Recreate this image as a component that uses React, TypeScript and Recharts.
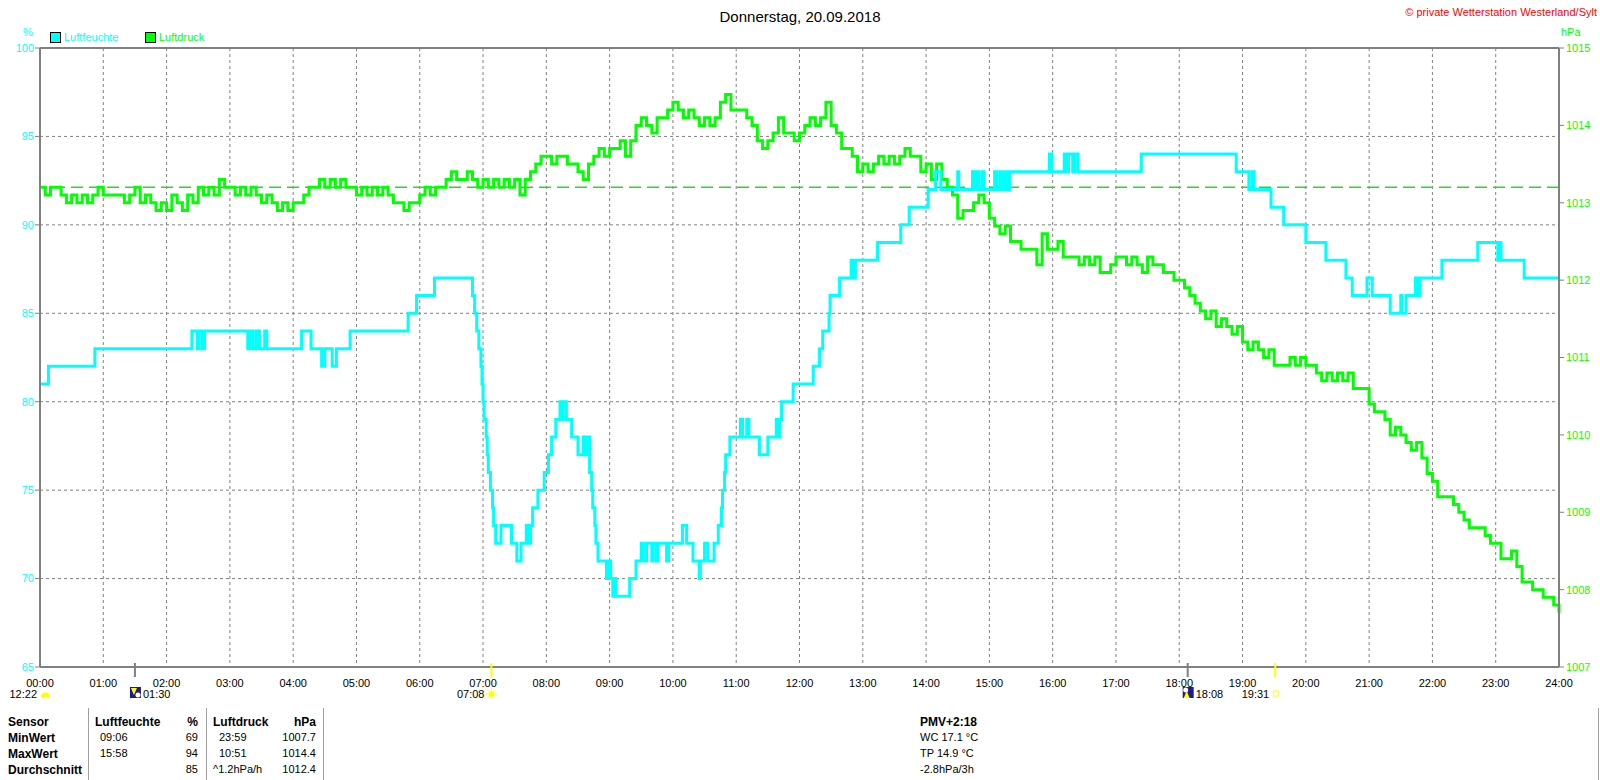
import React from "react";
import { LineChart, Line, XAxis, YAxis, CartesianGrid, ReferenceLine } from "recharts";

const FONT = '"Liberation Sans", Arial, sans-serif';
const CYAN = "#00ffff";
const GREEN = "#00ff00";
const GRID = "#808080";

const chartTitle = "Donnerstag, 20.09.2018";
const copyright = "\u00a9 private Wetterstation Westerland/Sylt";

const hourTicks = Array.from({ length: 25 }, (_, i) => i * 60);
const humidityTicks = [65, 70, 75, 80, 85, 90, 95, 100];
const pressureTicks = [1007, 1008, 1009, 1010, 1011, 1012, 1013, 1014, 1015];
const referencePressure = 1013.2;

// sun / moon events shown under the time axis
const dayEvents = [
  { t: 0, label: "12:22", kind: "day" },
  { t: 90, label: "01:30", kind: "moonrise" },
  { t: 428, label: "07:08", kind: "sunrise" },
  { t: 1088, label: "18:08", kind: "moonset" },
  { t: 1171, label: "19:31", kind: "sunset" },
];

// Luftfeuchte (%), value changes: [time, value]
const humidityChanges: [string, number][] = [
  ["00:00", 81], ["00:08", 82], ["00:52", 83], ["02:24", 84], ["02:29", 83], ["02:31", 84],
  ["02:34", 83], ["02:36", 84], ["03:17", 83], ["03:19", 84], ["03:22", 83], ["03:25", 84],
  ["03:28", 83], ["03:33", 84], ["03:35", 83], ["04:08", 84], ["04:17", 83], ["04:27", 82],
  ["04:30", 83], ["04:37", 82], ["04:41", 83], ["04:54", 84], ["05:49", 85], ["05:57", 86],
  ["06:14", 87], ["06:50", 86], ["06:52", 85], ["06:54", 84], ["06:56", 83], ["06:58", 82],
  ["06:59", 81], ["07:00", 80], ["07:01", 79], ["07:03", 78], ["07:04", 77], ["07:05", 76],
  ["07:07", 75], ["07:09", 74], ["07:10", 73], ["07:12", 72], ["07:17", 73], ["07:27", 72],
  ["07:32", 71], ["07:36", 72], ["07:41", 73], ["07:43", 72], ["07:45", 73], ["07:47", 74],
  ["07:52", 75], ["07:58", 76], ["08:02", 77], ["08:05", 78], ["08:09", 79], ["08:13", 80],
  ["08:15", 79], ["08:16", 80], ["08:19", 79], ["08:24", 78], ["08:30", 77], ["08:35", 78],
  ["08:36", 77], ["08:38", 78], ["08:41", 76], ["08:43", 75], ["08:44", 74], ["08:46", 73],
  ["08:47", 72], ["08:49", 71], ["08:57", 70], ["08:59", 71], ["09:01", 70], ["09:03", 69],
  ["09:05", 70], ["09:06", 69], ["09:19", 70], ["09:25", 71], ["09:30", 72], ["09:32", 71],
  ["09:35", 72], ["09:40", 71], ["09:41", 72], ["09:44", 71], ["09:46", 72], ["09:54", 71],
  ["09:56", 72], ["10:09", 73], ["10:13", 72], ["10:19", 71], ["10:25", 70], ["10:26", 71],
  ["10:30", 72], ["10:33", 71], ["10:39", 72], ["10:43", 73], ["10:46", 74], ["10:47", 75],
  ["10:49", 76], ["10:50", 77], ["10:54", 78], ["11:04", 79], ["11:06", 78], ["11:10", 79],
  ["11:12", 78], ["11:22", 77], ["11:30", 78], ["11:38", 79], ["11:40", 78], ["11:41", 79],
  ["11:43", 80], ["11:54", 81], ["12:13", 82], ["12:19", 83], ["12:22", 84], ["12:28", 85],
  ["12:29", 86], ["12:38", 87], ["12:49", 88], ["12:51", 87], ["12:53", 88], ["13:14", 89],
  ["13:36", 90], ["13:44", 91], ["14:02", 92], ["14:09", 93], ["14:14", 92], ["14:30", 93],
  ["14:31", 92], ["14:44", 93], ["14:46", 92], ["14:48", 93], ["14:50", 92], ["14:53", 93],
  ["14:55", 92], ["15:05", 93], ["15:07", 92], ["15:10", 93], ["15:12", 92], ["15:15", 93],
  ["15:17", 92], ["15:19", 93], ["15:57", 94], ["15:59", 93], ["16:11", 94], ["16:13", 93],
  ["16:15", 94], ["16:19", 93], ["16:21", 94], ["16:24", 93], ["17:24", 94], ["18:54", 93],
  ["19:06", 92], ["19:09", 93], ["19:11", 92], ["19:27", 91], ["19:39", 90], ["20:00", 89],
  ["20:19", 88], ["20:38", 87], ["20:44", 86], ["20:58", 87], ["21:03", 86], ["21:20", 85],
  ["21:30", 86], ["21:31", 85], ["21:35", 86], ["21:44", 87], ["21:46", 86], ["21:48", 87],
  ["22:09", 88], ["22:43", 89], ["23:02", 88], ["23:04", 89], ["23:05", 88], ["23:27", 87],
  ["24:00", 87],
];

// Luftdruck (hPa), one reading every 5 minutes
const pressureStepMin = 5;
const pressure00to06 = [
  1013.2, 1013.1, 1013.2, 1013.2, 1013.1, 1013.0, 1013.1, 1013.0, 1013.1, 1013.0, 1013.1, 1013.2,
  1013.1, 1013.1, 1013.1, 1013.1, 1013.0, 1013.1, 1013.2, 1013.0, 1013.1, 1013.0, 1012.9, 1013.0,
  1012.9, 1013.1, 1013.0, 1012.9, 1013.1, 1013.0, 1013.2, 1013.1, 1013.2, 1013.1, 1013.3, 1013.2,
  1013.2, 1013.1, 1013.2, 1013.1, 1013.2, 1013.1, 1013.0, 1013.1, 1013.0, 1012.9, 1013.0, 1012.9,
  1013.0, 1013.0, 1013.1, 1013.2, 1013.2, 1013.3, 1013.2, 1013.3, 1013.2, 1013.3, 1013.2, 1013.2,
  1013.1, 1013.2, 1013.1, 1013.2, 1013.1, 1013.2, 1013.1, 1013.0, 1013.0, 1012.9, 1013.0, 1013.0,
];
const pressure06to12 = [
  1013.1, 1013.2, 1013.1, 1013.2, 1013.2, 1013.3, 1013.4, 1013.3, 1013.3, 1013.4, 1013.3, 1013.2,
  1013.3, 1013.2, 1013.3, 1013.2, 1013.3, 1013.2, 1013.3, 1013.1, 1013.3, 1013.4, 1013.5, 1013.6,
  1013.6, 1013.5, 1013.6, 1013.6, 1013.5, 1013.5, 1013.4, 1013.3, 1013.5, 1013.6, 1013.7, 1013.6,
  1013.7, 1013.7, 1013.8, 1013.6, 1013.8, 1014.0, 1014.1, 1014.0, 1013.9, 1014.1, 1014.1, 1014.2,
  1014.3, 1014.2, 1014.1, 1014.2, 1014.1, 1014.0, 1014.1, 1014.0, 1014.1, 1014.3, 1014.4, 1014.2,
  1014.2, 1014.2, 1014.1, 1014.0, 1013.8, 1013.7, 1013.8, 1013.9, 1014.1, 1013.9, 1013.9, 1013.8,
];
const pressure12to18 = [
  1013.9, 1014.0, 1014.1, 1014.0, 1014.1, 1014.3, 1014.0, 1013.9, 1013.7, 1013.7, 1013.6, 1013.4,
  1013.5, 1013.4, 1013.5, 1013.6, 1013.5, 1013.6, 1013.5, 1013.6, 1013.7, 1013.6, 1013.6, 1013.4,
  1013.5, 1013.3, 1013.5, 1013.3, 1013.2, 1013.1, 1012.8, 1012.9, 1012.9, 1013.0, 1013.1, 1013.0,
  1012.8, 1012.7, 1012.6, 1012.7, 1012.5, 1012.5, 1012.4, 1012.4, 1012.4, 1012.2, 1012.6, 1012.4,
  1012.4, 1012.5, 1012.3, 1012.3, 1012.3, 1012.2, 1012.3, 1012.2, 1012.3, 1012.1, 1012.1, 1012.2,
  1012.3, 1012.3, 1012.2, 1012.3, 1012.2, 1012.1, 1012.3, 1012.2, 1012.2, 1012.1, 1012.1, 1012.0,
];
const pressure18to24 = [
  1012.0, 1011.9, 1011.8, 1011.7, 1011.6, 1011.5, 1011.6, 1011.4, 1011.5, 1011.4, 1011.3, 1011.4,
  1011.2, 1011.1, 1011.2, 1011.1, 1011.0, 1011.1, 1010.9, 1010.9, 1010.9, 1011.0, 1010.9, 1011.0,
  1010.9, 1010.9, 1010.8, 1010.7, 1010.8, 1010.7, 1010.8, 1010.7, 1010.8, 1010.6, 1010.6, 1010.6,
  1010.4, 1010.3, 1010.3, 1010.2, 1010.0, 1010.1, 1010.0, 1009.9, 1009.8, 1009.9, 1009.7, 1009.5,
  1009.4, 1009.2, 1009.2, 1009.2, 1009.1, 1009.0, 1008.9, 1008.8, 1008.8, 1008.8, 1008.7, 1008.6,
  1008.6, 1008.4, 1008.4, 1008.5, 1008.3, 1008.1, 1008.1, 1008.0, 1008.0, 1007.9, 1007.9, 1007.8,
  1007.7,
];

// summary table under the chart
const statLabels = ["Sensor", "MinWert", "MaxWert", "Durchschnitt"];
const humidityStats = [["Luftfeuchte", "%"], ["09:06", "69"], ["15:58", "94"], ["", "85"]];
const pressureStats = [["Luftdruck", "hPa"], ["23:59", "1007.7"], ["10:51", "1014.4"], ["^1.2hPa/h", "1012.4"]];
const extraInfo = ["PMV+2:18", "WC 17.1 \u00b0C", "TP 14.9 \u00b0C", "-2.8hPa/3h"];

const toMinutes = (s: string) => {
  const [h, m] = s.split(":").map(Number);
  return h * 60 + m;
};

const humidityData = humidityChanges.map(([time, v]) => ({ t: toMinutes(time), v }));
const pressureData = [...pressure00to06, ...pressure06to12, ...pressure12to18, ...pressure18to24].map(
  (v, i) => ({ t: i * pressureStepMin, v })
);
const axisTicks = Array.from(new Set([...hourTicks, ...dayEvents.map((e) => e.t)])).sort((a, b) => a - b);

const fmtHour = (t: number) => `${String(Math.floor(t / 60)).padStart(2, "0")}:00`;

const EventMark = ({ x, y, ev }: { x: number; y: number; ev: (typeof dayEvents)[number] }) => {
  const base = y + 31;
  const txt = { fontSize: 11, fontFamily: FONT, fill: "#000" };
  if (ev.kind === "day") {
    return (
      <g>
        <text x={x - 3} y={base} textAnchor="end" {...txt}>{ev.label}</text>
        <path d={`M${x + 1} ${base - 1} a4.5 4.5 0 0 1 9 0 z`} fill="#ffff00" />
        <circle cx={x + 3} cy={base - 2} r={2} fill="#ffff00" />
      </g>
    );
  }
  if (ev.kind === "moonrise" || ev.kind === "moonset") {
    const up = ev.kind === "moonset";
    return (
      <g>
        <line x1={x} x2={x} y1={y - 4} y2={y + 10} stroke={GRID} strokeWidth={2} />
        <rect x={x - 5} y={y + 20} width={11} height={11} fill="#1c1c8c" />
        {up ? (
          <>
            <circle cx={x - 2} cy={y + 23} r={2.5} fill="#ffffff" />
            <polygon points={`${x - 1},${y + 24} ${x - 4},${y + 31} ${x + 2},${y + 31}`} fill="#ffff00" />
          </>
        ) : (
          <>
            <polygon points={`${x - 4},${y + 21} ${x + 2},${y + 21} ${x - 1},${y + 28}`} fill="#ffff00" />
            <circle cx={x + 3} cy={y + 28} r={2.5} fill="#ffffff" />
          </>
        )}
        <text x={x + 8} y={base} {...txt}>{ev.label}</text>
      </g>
    );
  }
  if (ev.kind === "sunrise") {
    const cy = y + 27;
    const rays = [0, 45, 90, 135, 180, 225, 270, 315];
    return (
      <g>
        <line x1={x} x2={x} y1={y - 4} y2={y + 10} stroke="#ffff00" strokeWidth={2} />
        <circle cx={x} cy={cy} r={3} fill="#ffff00" />
        {rays.map((a) => {
          const r = (a * Math.PI) / 180;
          return (
            <line key={a} x1={x + Math.cos(r) * 3.5} y1={cy + Math.sin(r) * 3.5}
              x2={x + Math.cos(r) * 5.5} y2={cy + Math.sin(r) * 5.5} stroke="#ffff00" strokeWidth={1} />
          );
        })}
        <text x={x - 7} y={base} textAnchor="end" {...txt}>{ev.label}</text>
      </g>
    );
  }
  return (
    <g>
      <line x1={x} x2={x} y1={y - 4} y2={y + 10} stroke="#ffff00" strokeWidth={2} />
      <rect x={x - 2} y={y + 24} width={5} height={5} fill="none" stroke="#ffff00" strokeWidth={1} />
      <text x={x - 6} y={base} textAnchor="end" {...txt}>{ev.label}</text>
    </g>
  );
};

const TimeTick = (props: any) => {
  const { x, y, payload } = props;
  const t = payload.value as number;
  const ev = dayEvents.find((e) => e.t === t);
  return (
    <g>
      {t % 60 === 0 && (
        <text x={x} y={y + 20} textAnchor="middle" fontSize={11} fontFamily={FONT} fill="#000">
          {fmtHour(t)}
        </text>
      )}
      {ev && <EventMark x={x} y={y} ev={ev} />}
    </g>
  );
};

const abs = (style: React.CSSProperties): React.CSSProperties => ({
  position: "absolute",
  whiteSpace: "nowrap",
  lineHeight: 1,
  fontFamily: FONT,
  ...style,
});

const rowTop = (i: number) => 716 + i * 16;

export default function App() {
  return (
    <div style={{ position: "absolute", left: 0, top: 0, width: 1600, height: 780, background: "#fff", overflow: "hidden" }}>
      <LineChart width={1600} height={780} margin={{ top: 48, right: 0, bottom: 0, left: 0 }}>
        <CartesianGrid
          xAxisId="t"
          yAxisId="h"
          stroke={GRID}
          strokeDasharray="3 3"
          verticalValues={hourTicks}
          horizontalValues={humidityTicks}
        />
        <XAxis
          xAxisId="t"
          dataKey="t"
          type="number"
          domain={[0, 1440]}
          ticks={axisTicks}
          interval={0}
          height={113}
          axisLine={{ stroke: GRID, strokeWidth: 2 }}
          tickLine={false}
          tickSize={0}
          tickMargin={0}
          tick={(p: any) => <TimeTick {...p} />}
        />
        <YAxis
          yAxisId="h"
          orientation="left"
          width={40}
          type="number"
          domain={[65, 100]}
          ticks={humidityTicks}
          interval={0}
          axisLine={{ stroke: GRID, strokeWidth: 2 }}
          tickLine={{ stroke: GRID }}
          tickSize={5}
          tickMargin={1}
          tick={{ fill: CYAN, fontSize: 11, fontFamily: FONT }}
        />
        <YAxis
          yAxisId="p"
          orientation="right"
          width={41}
          type="number"
          domain={[1007, 1015]}
          ticks={pressureTicks}
          interval={0}
          axisLine={{ stroke: GRID, strokeWidth: 2 }}
          tickLine={{ stroke: GRID }}
          tickSize={5}
          tickMargin={2}
          tick={{ fill: GREEN, fontSize: 11, fontFamily: FONT }}
        />
        <ReferenceLine xAxisId="t" yAxisId="h" y={100} stroke={GRID} strokeWidth={2} />
        <ReferenceLine xAxisId="t" yAxisId="p" y={referencePressure} stroke="#22dd22" strokeWidth={1.5} strokeDasharray="12 6" />
        <Line
          xAxisId="t"
          yAxisId="p"
          data={pressureData}
          dataKey="v"
          type="stepAfter"
          stroke={GREEN}
          strokeWidth={3}
          dot={false}
          isAnimationActive={false}
        />
        <Line
          xAxisId="t"
          yAxisId="h"
          data={humidityData}
          dataKey="v"
          type="stepAfter"
          stroke={CYAN}
          strokeWidth={3}
          dot={false}
          isAnimationActive={false}
        />
      </LineChart>

      <div style={abs({ left: 0, width: 1600, top: 9, textAlign: "center", fontSize: 15 })}>{chartTitle}</div>
      <div style={abs({ right: 3, top: 7, fontSize: 11, color: "#ff0000" })}>{copyright}</div>
      <div style={abs({ left: 23, top: 27, fontSize: 11, color: CYAN })}>%</div>
      <div style={abs({ left: 1561, top: 27, fontSize: 11, color: GREEN })}>hPa</div>

      <div style={abs({ left: 50, top: 32, width: 9, height: 9, background: CYAN, border: "1px solid #000" })} />
      <div style={abs({ left: 64, top: 32, fontSize: 11, color: CYAN })}>Luftfeuchte</div>
      <div style={abs({ left: 145, top: 32, width: 9, height: 9, background: GREEN, border: "1px solid #000" })} />
      <div style={abs({ left: 159, top: 32, fontSize: 11, color: GREEN })}>Luftdruck</div>

      {[88, 206, 323, 1598].map((x) => (
        <div key={x} style={abs({ left: x, top: 708, width: 1, height: 72, background: "#a0a0a0" })} />
      ))}
      {statLabels.map((s, i) => (
        <div key={s} style={abs({ left: 8, top: rowTop(i), fontSize: 12, fontWeight: "bold" })}>{s}</div>
      ))}
      {humidityStats.map(([a, b], i) => (
        <React.Fragment key={"h" + i}>
          <div style={abs({ left: i === 0 ? 95 : 100, top: rowTop(i), fontSize: i === 0 ? 12 : 11, fontWeight: i === 0 ? "bold" : "normal" })}>{a}</div>
          <div style={abs({ right: 1600 - 198, top: rowTop(i), fontSize: i === 0 ? 12 : 11, fontWeight: i === 0 ? "bold" : "normal" })}>{b}</div>
        </React.Fragment>
      ))}
      {pressureStats.map(([a, b], i) => (
        <React.Fragment key={"p" + i}>
          <div style={abs({ left: i === 0 || i === 3 ? 213 : 219, top: rowTop(i), fontSize: i === 0 ? 12 : 11, fontWeight: i === 0 ? "bold" : "normal" })}>{a}</div>
          <div style={abs({ right: 1600 - 316, top: rowTop(i), fontSize: i === 0 ? 12 : 11, fontWeight: i === 0 ? "bold" : "normal" })}>{b}</div>
        </React.Fragment>
      ))}
      {extraInfo.map((s, i) => (
        <div key={s} style={abs({ left: 920, top: rowTop(i), fontSize: i === 0 ? 12 : 11, fontWeight: i === 0 ? "bold" : "normal" })}>{s}</div>
      ))}
    </div>
  );
}
